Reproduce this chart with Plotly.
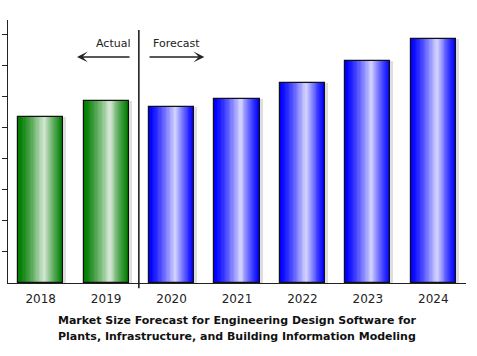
import plotly.graph_objects as go

years = ["2018", "2019", "2020", "2021", "2022", "2023", "2024"]
values = [5.35, 5.88, 5.68, 5.92, 6.45, 7.15, 7.87]
actual_flags = [True, True, False, False, False, False, False]
title_lines = ["Market Size Forecast for Engineering Design Software for",
               "Plants, Infrastructure, and Building Information Modeling"]

BAR_W = 0.69
GREEN_EDGE = (0, 125, 0)
GREEN_MID = (222, 236, 222)
BLUE_EDGE = (0, 0, 255)
BLUE_MID = (222, 222, 255)
N = 20
PEAK = 0.58  # position of light band across bar (0 = left edge, 1 = right)


def mix(a, b, t):
    return "rgb(%d,%d,%d)" % tuple(round(a[i] + (b[i] - a[i]) * t) for i in range(3))


fig = go.Figure()

# shadow
fig.add_trace(go.Bar(x=years, y=values, width=BAR_W, offset=-BAR_W / 2 + 0.045,
                     marker=dict(color="rgba(0,0,0,0.13)", line=dict(width=0)),
                     hoverinfo="skip", showlegend=False, cliponaxis=False))

# gradient layers
for i in range(N):
    f = i / N  # 0 outermost
    left = -BAR_W / 2 + f * PEAK * BAR_W
    right = BAR_W / 2 - f * (1 - PEAK) * BAR_W
    t = (f ** 1.25)
    cols = [mix(GREEN_EDGE, GREEN_MID, t) if a else mix(BLUE_EDGE, BLUE_MID, t) for a in actual_flags]
    fig.add_trace(go.Bar(x=years, y=values, width=right - left, offset=left,
                         marker=dict(color=cols, line=dict(width=0)),
                         hoverinfo="skip", showlegend=False))

# outline
fig.add_trace(go.Bar(x=years, y=values, width=BAR_W, offset=-BAR_W / 2,
                     marker=dict(color="rgba(0,0,0,0)", line=dict(color="#111", width=1.2)),
                     showlegend=False))

fig.update_layout(
    width=477, height=356,
    margin=dict(l=8, r=11, t=20, b=73, autoexpand=False),
    paper_bgcolor="white", plot_bgcolor="white",
    barmode="overlay", bargap=0,
    showlegend=False,
    font=dict(family="DejaVu Sans", color="#222"),
    xaxis=dict(type="category", categoryorder="array", categoryarray=years,
               range=[-0.5, 6.5], showline=True, linecolor="#222", linewidth=1.2,
               ticks="", showgrid=False, zeroline=False, automargin=False,
               ticklabelstandoff=4,
               tickfont=dict(size=12, color="#222")),
    yaxis=dict(range=[0, 8.48], showline=True, linecolor="#222", linewidth=1.2,
               showgrid=False, zeroline=False, showticklabels=False, automargin=False,
               tickmode="array", tickvals=[1, 2, 3, 4, 5, 6, 7, 8],
               ticks="outside", ticklen=5, tickcolor="#222", tickwidth=1.2),
    xaxis2=dict(overlaying="x", anchor="y", side="bottom", range=[-0.5, 6.5],
                tickmode="array", tickvals=[0.5, 1.5, 2.5, 3.5, 4.5, 5.5, 6.5],
                ticks="outside", ticklen=3, tickcolor="#222", tickwidth=1.2, automargin=False,
                showticklabels=False, showgrid=False, zeroline=False, showline=False),
    xaxis3=dict(overlaying="x", anchor="y", side="bottom", range=[-0.5, 6.5],
                tickmode="array", tickvals=[0.5, 1.5, 2.5, 3.5, 4.5, 5.5, 6.5],
                ticks="inside", ticklen=3, tickcolor="#222", tickwidth=1.2, automargin=False,
                showticklabels=False, showgrid=False, zeroline=False, showline=False),
    yaxis2=dict(overlaying="y", anchor="x", side="left", range=[0, 8.48],
                tickmode="array", tickvals=[1, 2, 3, 4, 5, 6, 7, 8],
                ticks="inside", ticklen=5, tickcolor="#222", tickwidth=1.2, automargin=False,
                showticklabels=False, showgrid=False, zeroline=False, showline=False),
)

# divider between actual and forecast
fig.add_shape(type="line", xref="x", yref="paper", x0=1.5, x1=1.5, y0=-0.02, y1=0.962,
              line=dict(color="#111", width=1.5))

ay = 7.29
fig.add_annotation(x=0.555, y=ay, ax=1.38, ay=ay, xref="x", yref="y", axref="x", ayref="y",
                   text="", showarrow=True, arrowhead=3, arrowsize=1.2, arrowwidth=1.5,
                   arrowcolor="#222")
fig.add_annotation(x=2.50, y=ay, ax=1.64, ay=ay, xref="x", yref="y", axref="x", ayref="y",
                   text="", showarrow=True, arrowhead=3, arrowsize=1.2, arrowwidth=1.5,
                   arrowcolor="#222")
fig.add_annotation(x=1.105, y=7.72, xref="x", yref="y", text="Actual", showarrow=False,
                   font=dict(size=11, color="#222"))
fig.add_annotation(x=2.07, y=7.72, xref="x", yref="y", text="Forecast", showarrow=False,
                   font=dict(size=11, color="#222"))

for line, yy in zip(title_lines, [-0.1407, -0.2053]):
    fig.add_annotation(x=0.5, y=yy, xref="paper", yref="paper", yanchor="middle",
                       text="<b>" + line + "</b>", showarrow=False,
                       font=dict(size=11, color="#111", family="DejaVu Sans"))

fig.write_html("out.html", config={"displayModeBar": False},
               post_script="document.body.style.margin='0';")
